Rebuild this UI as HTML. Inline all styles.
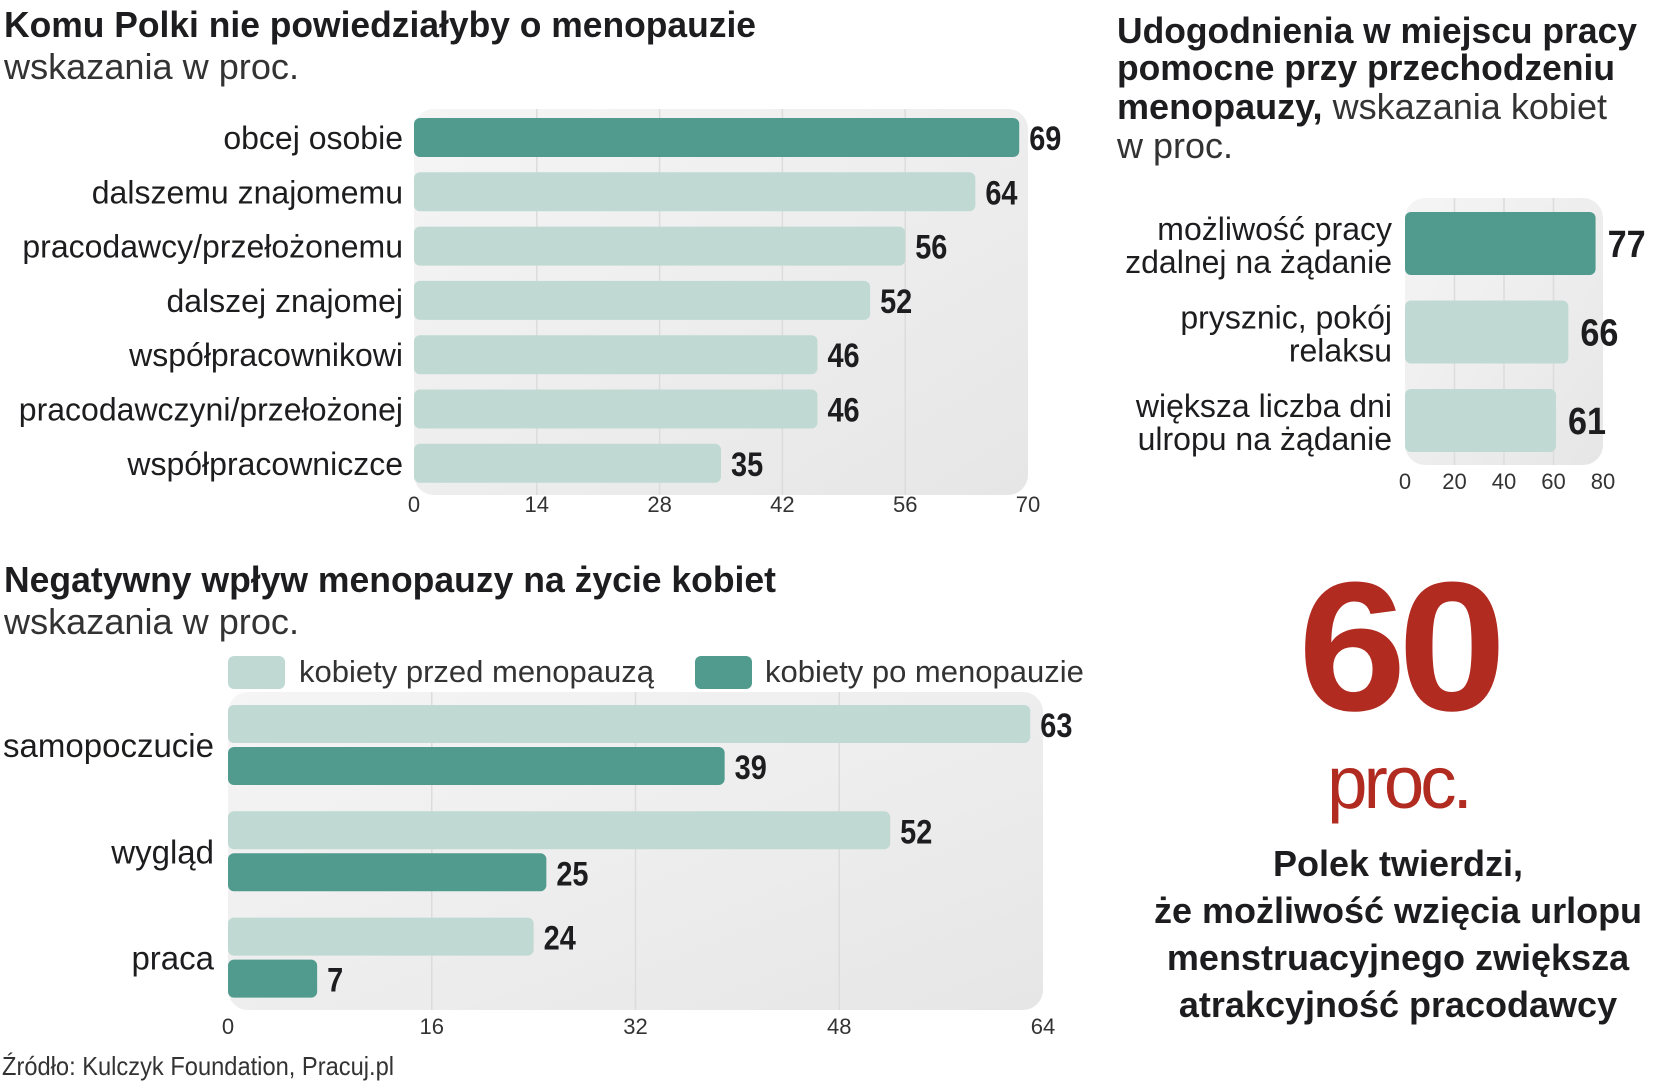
<!DOCTYPE html>
<html><head><meta charset="utf-8">
<style>
body{margin:0;width:1653px;height:1080px;background:#fff;position:relative;overflow:hidden;font-family:"Liberation Sans",sans-serif;color:#1d1d1f}
.t{position:absolute;white-space:nowrap;transform-origin:0 50%}
.b{font-weight:bold}
.l{font-weight:normal;color:#333}
svg{position:absolute;left:0;top:0}
svg text{font-family:"Liberation Sans",sans-serif}
</style></head><body>
<div class="t b" data-w="752" style="left:4px;top:4px;font-size:36px">Komu Polki nie powiedziałyby o menopauzie</div>
<div class="t l" data-w="295" style="left:4px;top:46px;font-size:36px">wskazania w proc.</div>

<div class="t b" data-w="520" style="left:1117px;top:10px;font-size:36px">Udogodnienia w miejscu pracy</div>
<div class="t b" data-w="498" style="left:1117px;top:47px;font-size:36px">pomocne przy przechodzeniu</div>
<div class="t" data-w="490" style="left:1117px;top:86px;font-size:36px"><b>menopauzy,</b> <span style="color:#333">wskazania kobiet</span></div>
<div class="t l" data-w="116" style="left:1117px;top:125px;font-size:36px">w proc.</div>

<div class="t b" data-w="772" style="left:4px;top:559px;font-size:36px">Negatywny wpływ menopauzy na życie kobiet</div>
<div class="t l" data-w="295" style="left:4px;top:601px;font-size:36px">wskazania w proc.</div>

<div class="t l" data-w="392" style="left:2px;top:1051px;font-size:26px">Źródło: Kulczyk Foundation, Pracuj.pl</div>

<div class="t b" style="left:1248px;width:300px;text-align:center;top:540px;font-size:184px;color:#b12b20;letter-spacing:-8px;transform:scaleX(1.06);transform-origin:50% 50%">60</div>
<div class="t" style="left:1248px;width:300px;text-align:center;top:740px;font-size:74px;color:#b12b20;letter-spacing:-4px;transform:scaleX(0.98);transform-origin:50% 50%">proc.</div>
<div style="position:absolute;left:1048px;width:700px;top:840px;text-align:center;font-weight:bold;font-size:36px;line-height:47px">Polek twierdzi,<br>że możliwość wzięcia urlopu<br>menstruacyjnego zwiększa<br>atrakcyjność pracodawcy</div>

<svg id="s" width="1653" height="1080"></svg>

<script>
// chart 1
const c1Cats=["obcej osobie","dalszemu znajomemu","pracodawcy/przełożonemu","dalszej znajomej","współpracownikowi","pracodawczyni/przełożonej","współpracowniczce"];
const c1Vals=[69,64,56,52,46,46,35];
const c1Ticks=[0,14,28,42,56,70];
// chart 2
const c2Cats=[["możliwość pracy","zdalnej na żądanie"],["prysznic, pokój","relaksu"],["większa liczba dni","ulropu na żądanie"]];
const c2Vals=[77,66,61];
const c2Ticks=[0,20,40,60,80];
// chart 3
const c3Cats=["samopoczucie","wygląd","praca"];
const c3Before=[63,52,24];
const c3After=[39,25,7];
const c3Ticks=[0,16,32,48,64];
const c3Series=["kobiety przed  menopauzą","kobiety po menopauzie"];

const DARK="#519b8e",LIGHT="#c0dad3";
const S=document.getElementById('s');
const NS="http://www.w3.org/2000/svg";
function mk(tag,a,parent){const e=document.createElementNS(NS,tag);for(const k in a)e.setAttribute(k,a[k]);(parent||S).appendChild(e);return e;}
const defs=mk('defs',{});
const g=mk('linearGradient',{id:'bg',x1:0,y1:0,x2:1,y2:1},defs);
mk('stop',{offset:0,'stop-color':'#f5f5f5'},g);mk('stop',{offset:1,'stop-color':'#e6e6e6'},g);

function panel(x0,x1,y0,y1,ticks,sx,name){
  const r=mk('rect',{x:x0,y:y0,width:x1-x0,height:y1-y0,rx:20,fill:'url(#bg)'});
  
  
  ticks.forEach((t,i)=>{
    if(i>0&&i<ticks.length-1){const ln=mk('line',{x1:sx(t),x2:sx(t),y1:y0,y2:y1,stroke:'#dcdcdc','stroke-width':1.5});
      
      }
  });
}
function ticksTxt(ticks,sx,y,size,name){
  ticks.forEach(t=>{const e=mk('text',{x:sx(t),y:y,'text-anchor':'middle','font-size':size,fill:'#333'});e.textContent=t;
    
    });
}
function bar(x,y,w,h,fill,name){const e=mk('rect',{x:x,y:y,width:Math.max(w,0),height:h,rx:6,fill:fill});
  
  return e;}
function txt(x,y,s,size,opts,name){const e=mk('text',Object.assign({x:x,y:y,'font-size':size,fill:'#1d1d1f'},opts||{}));e.textContent=s;
  
  return e;}

// chart 1
(function(){
  const x0=414,x1=1028,max=c1Ticks[c1Ticks.length-1];
  const sx=v=>x0+(x1-x0)*v/max;
  panel(x0,x1,109,495,c1Ticks,sx,'chart1');
  c1Vals.forEach((v,i)=>{
    const y=118+i*54.3;
    bar(x0,y,sx(v)-x0,39,i===0?DARK:LIGHT,'chart1-bar-'+i);
    txt(403,y+31,c1Cats[i],32,{'text-anchor':'end'},'chart1-category-label');
    const vx=sx(v)+10;
    const vt=txt(vx,y+32,v,34,{'font-weight':'bold'},'chart1-value-label');
    vt.setAttribute('transform','translate('+vx+',0) scale(0.85,1) translate('+(-vx)+',0)');
  });
  ticksTxt(c1Ticks,sx,512,22,'chart1');
})();

// chart 2
(function(){
  const x0=1405,x1=1603,max=c2Ticks[c2Ticks.length-1];
  const sx=v=>x0+(x1-x0)*v/max;
  panel(x0,x1,198,465,c2Ticks,sx,'chart2');
  c2Vals.forEach((v,i)=>{
    const y=212+i*88.5;
    bar(x0,y,sx(v)-x0,63,i===0?DARK:LIGHT,'chart2-bar-'+i);
    txt(1392,y+28,c2Cats[i][0],32,{'text-anchor':'end'},'chart2-category-label');
    txt(1392,y+61,c2Cats[i][1],32,{'text-anchor':'end'},'chart2-category-label');
    const vx=sx(v)+12;
    const vt=txt(vx,y+45,v,38,{'font-weight':'bold'},'chart2-value-label');
    vt.setAttribute('transform','translate('+vx+',0) scale(0.9,1) translate('+(-vx)+',0)');
  });
  ticksTxt(c2Ticks,sx,489,22,'chart2');
})();

// chart 3
(function(){
  const x0=228,x1=1043,max=c3Ticks[c3Ticks.length-1];
  const sx=v=>x0+(x1-x0)*v/max;
  panel(x0,x1,692,1010,c3Ticks,sx,'chart3');
  bar(228,656,57,33,LIGHT,'legend-swatch-before');
  txt(299,682,c3Series[0],31,{fill:'#333'},'legend-label-before');
  bar(695,656,57,33,DARK,'legend-swatch-after');
  txt(765,682,c3Series[1],31,{fill:'#333'},'legend-label-after');
  c3Cats.forEach((c,i)=>{
    const y=705+i*106.3;
    bar(x0,y,sx(c3Before[i])-x0,38,LIGHT,'chart3-bar-before-'+i);
    bar(x0,y+42,sx(c3After[i])-x0,38,DARK,'chart3-bar-after-'+i);
    txt(214,y+52,c,33,{'text-anchor':'end'},'chart3-category-label');
    let vx=sx(c3Before[i])+10;
    let vt=txt(vx,y+32,c3Before[i],34,{'font-weight':'bold'},'chart3-value-before');
    vt.setAttribute('transform','translate('+vx+',0) scale(0.85,1) translate('+(-vx)+',0)');
    vx=sx(c3After[i])+10;
    vt=txt(vx,y+74,c3After[i],34,{'font-weight':'bold'},'chart3-value-after');
    vt.setAttribute('transform','translate('+vx+',0) scale(0.85,1) translate('+(-vx)+',0)');
  });
  ticksTxt(c3Ticks,sx,1034,22,'chart3');
})();

// fit title widths
document.querySelectorAll('[data-w]').forEach(el=>{
  const w=el.getBoundingClientRect().width,tw=+el.getAttribute('data-w');
  if(w>0)el.style.transform='scaleX('+(tw/w)+')';
});
</script>
</body></html>
